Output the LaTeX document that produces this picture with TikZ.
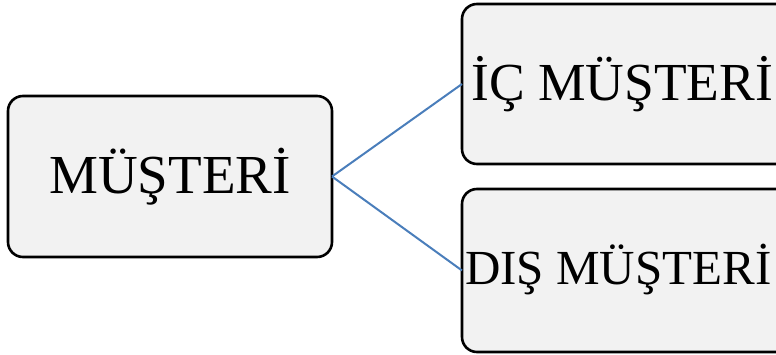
\documentclass[tikz,border=0pt]{standalone}
\usepackage{fontspec}
\setmainfont{Liberation Serif}
\definecolor{boxfill}{HTML}{F2F2F2}
\definecolor{linkblue}{HTML}{4A7EBB}
\begin{document}
\begin{tikzpicture}[x=1pt,y=1pt,
  cbox/.style={draw=black, line width=2.6pt, fill=boxfill, rounded corners=15pt,
    inner sep=0pt, outer sep=0pt},
  caption/.style={inner sep=0pt, anchor=base west},
  link/.style={draw=linkblue, line width=2pt}]
\useasboundingbox (0,0) rectangle (776,-355);
\clip (0,0) rectangle (776,-355);
% the three boxes
\node[cbox, minimum width=324pt, minimum height=161pt,
  font=\fontsize{55}{60}\selectfont] (root) at (170,-176.5) {MÜŞTERİ};
\node[cbox, minimum width=330pt, minimum height=160pt] (inner) at (627,-84) {};
\node[cbox, minimum width=330pt, minimum height=163pt] (outer) at (627,-270.5) {};
% their captions
\node[caption, font=\fontsize{53.5}{58}\selectfont] (innertext) at (471,-101) {İÇ MÜŞTERİ};
\node[caption, font=\fontsize{49}{53}\selectfont] (outertext) at (465,-284) {DIŞ MÜŞTERİ};
% connectors
\draw[link] (root.east) -- (inner.west);
\draw[link] (root.east) -- (outer.west);
\end{tikzpicture}
\end{document}
